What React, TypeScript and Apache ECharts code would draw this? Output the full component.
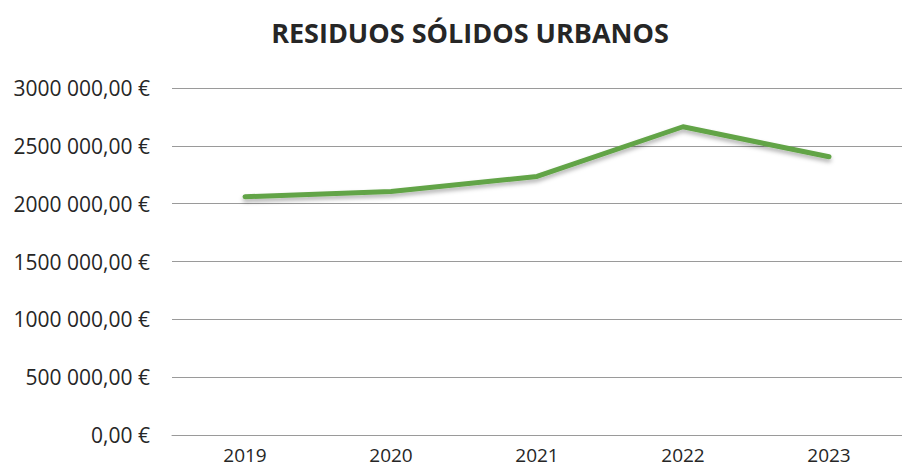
import React, { useEffect, useRef } from "react";
import * as echarts from "echarts";

const title = "RESIDUOS SÓLIDOS URBANOS";
const years = ["2019", "2020", "2021", "2022", "2023"];
const costs = [2060000, 2105000, 2235000, 2665000, 2405000];
const yMin = 0;
const yMax = 3000000;
const yStep = 500000;

function fmt(v: number): string {
  if (v === 0) return "0,00 €";
  const th = Math.floor(v / 1000);
  const rest = String(Math.round(v % 1000)).padStart(3, "0");
  return th + " " + rest + ",00 €";
}

export default function App() {
  const ref = useRef<HTMLDivElement>(null);
  useEffect(() => {
    document.body.style.margin = "0";
    if (!ref.current) return;
    const chart = echarts.init(ref.current, null, { renderer: "svg" });
    chart.setOption({
      animation: false,
      backgroundColor: "#ffffff",
      title: {
        text: title,
        left: 465,
        textAlign: "center",
        top: 14,
        textStyle: {
          fontFamily: "Open Sans",
          fontWeight: "bold",
          fontSize: 27,
          color: "#262626",
        },
      },
      grid: { left: 172, top: 88, width: 737, height: 347 },
      xAxis: {
        type: "category",
        data: years,
        boundaryGap: true,
        axisLine: { show: true, lineStyle: { color: "#9a9a9a", width: 1 } },
        axisTick: { show: false },
        axisLabel: {
          fontFamily: "Open Sans",
          fontSize: 19,
          color: "#262626",
          margin: 10,
        },
      },
      yAxis: {
        type: "value",
        min: yMin,
        max: yMax,
        interval: yStep,
        axisLine: { show: false },
        axisTick: { show: false },
        splitLine: { lineStyle: { color: "#9a9a9a", width: 1 } },
        axisLabel: {
          fontFamily: "Open Sans",
          fontSize: 21,
          color: "#262626",
          margin: 22,
          formatter: (v: number) => fmt(v),
        },
      },
      series: [
        {
          type: "line",
          data: costs,
          symbol: "none",
          lineStyle: {
            color: "#62a447",
            width: 5,
            cap: "round",
            join: "round",
            shadowColor: "rgba(0,0,0,0.3)",
            shadowBlur: 4,
            shadowOffsetY: 3,
          },
        },
      ],
    });
    return () => chart.dispose();
  }, []);
  return <div ref={ref} style={{ width: 902, height: 471 }} />;
}
